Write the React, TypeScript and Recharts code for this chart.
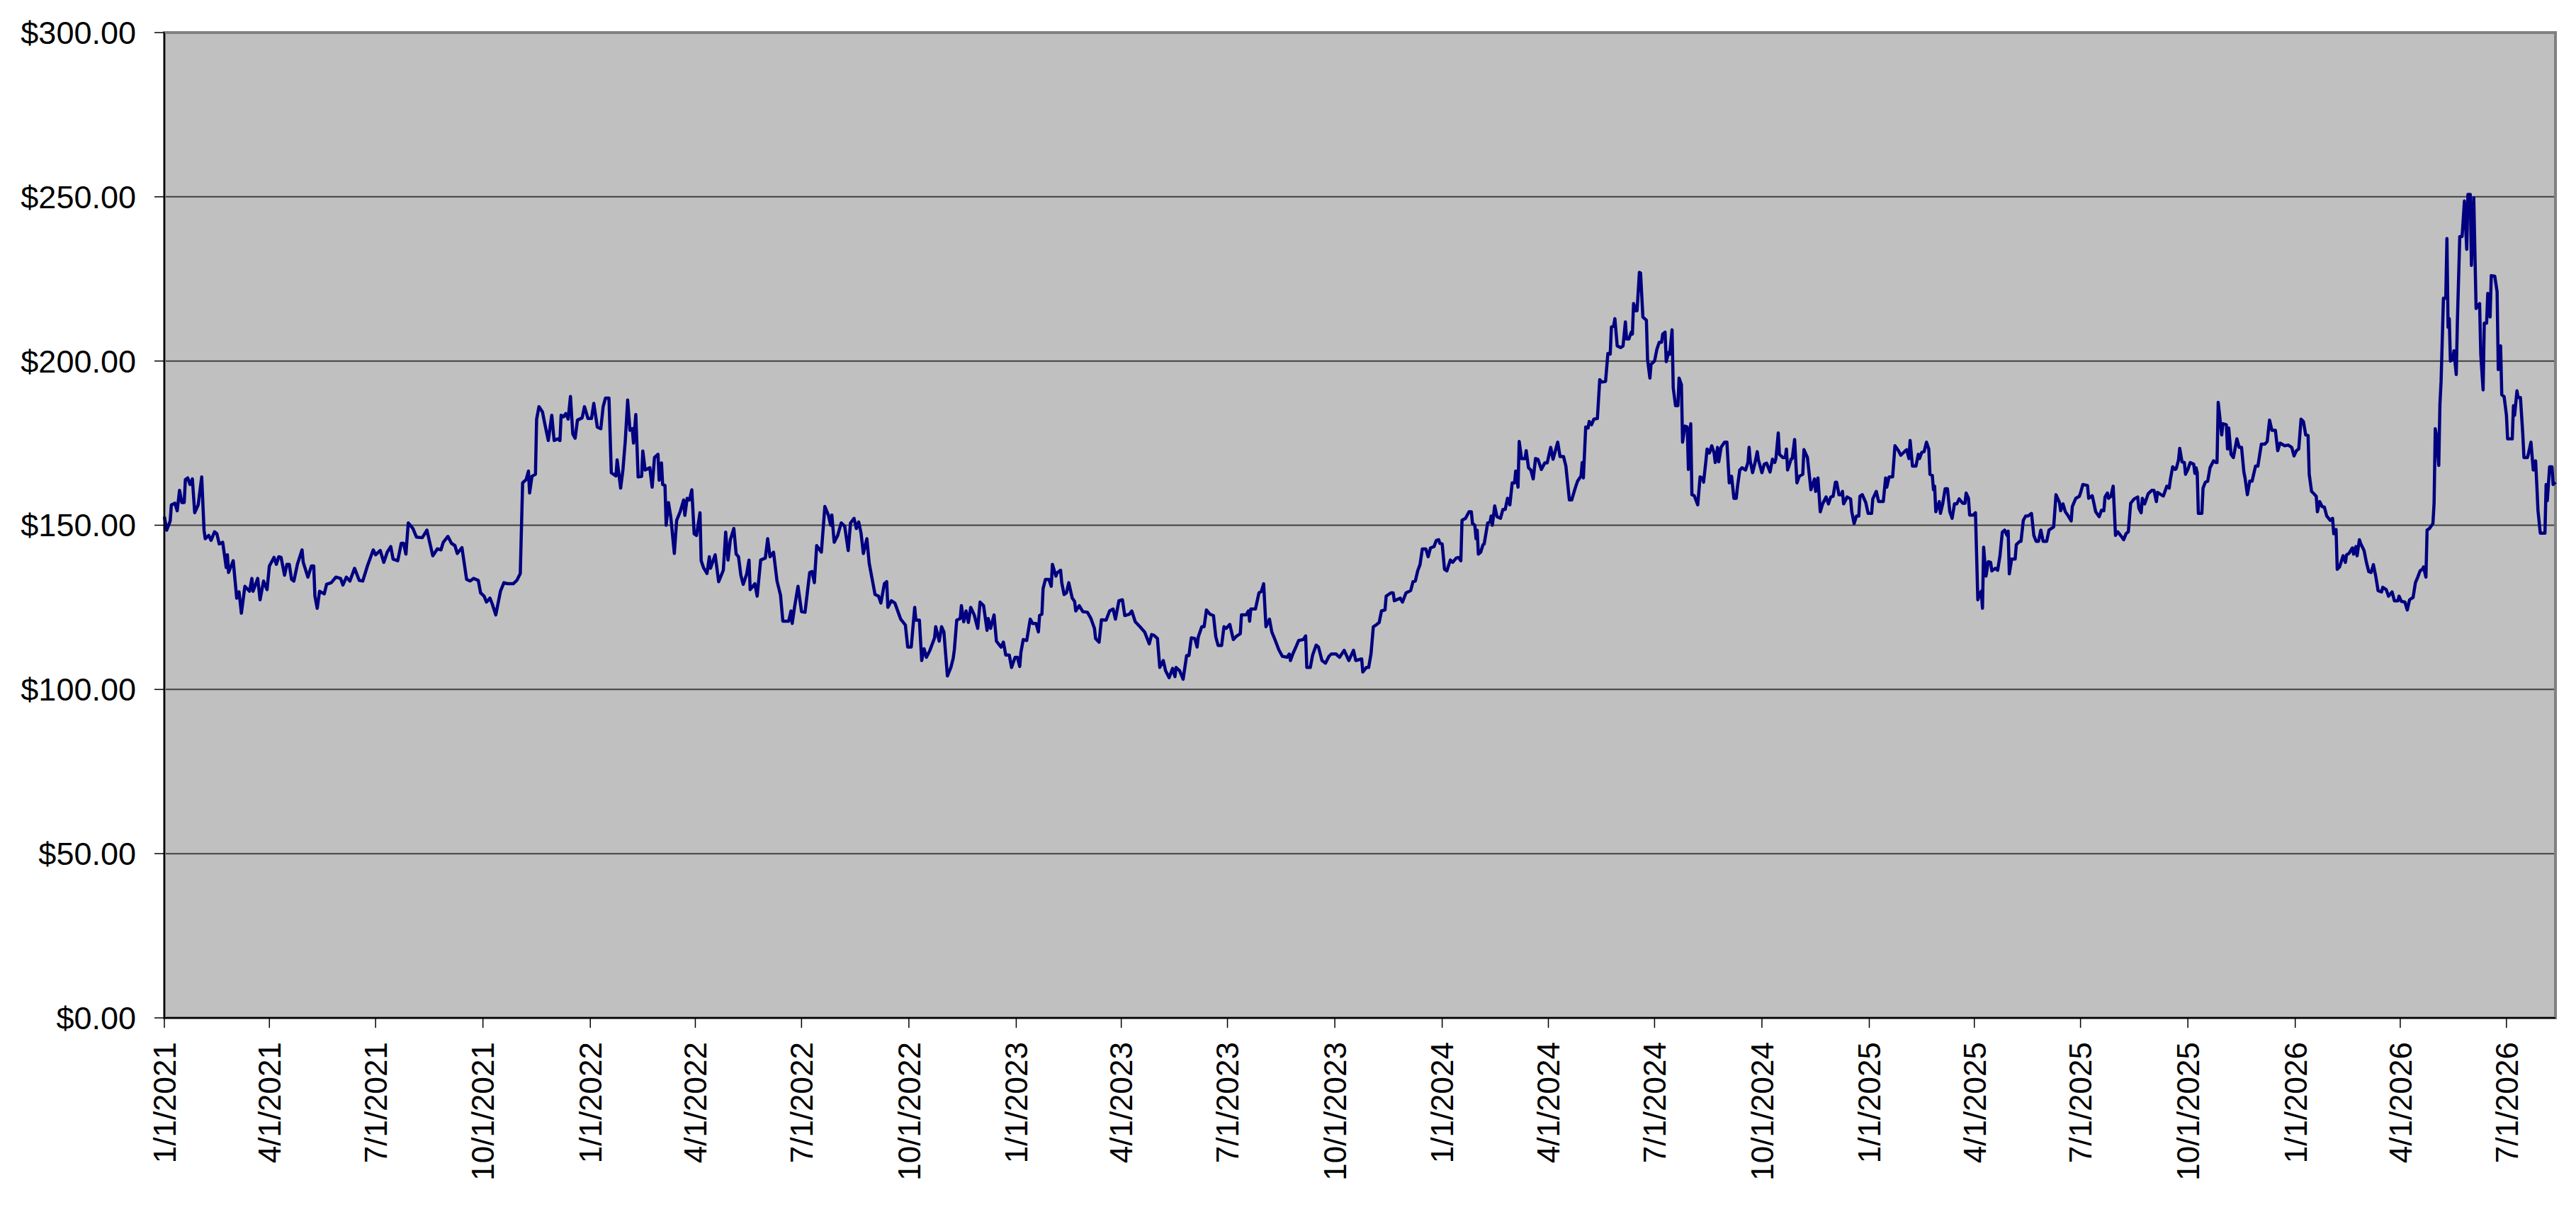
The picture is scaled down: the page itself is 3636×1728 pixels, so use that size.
import React from 'react';
import { LineChart, Line, XAxis, YAxis, CartesianGrid, ReferenceArea } from 'recharts';

// x = days since 1/1/2021
const dayOffsets = [
  0, 2, 5, 6, 9, 11, 13, 15, 17, 18, 20, 22, 24, 26, 29, 32, 34, 35, 38, 40, 43, 45, 47, 50, 53, 54, 55, 59, 62, 64,
  66, 69, 73, 75, 76, 80, 82, 85, 88, 90, 94, 96, 98, 100, 103, 105, 107, 109, 111, 114, 118, 119, 123, 126, 128, 129,
  131, 133, 137, 139, 143, 147, 151, 153, 156, 159, 163, 167, 170, 174, 179, 181, 185, 188, 191, 194, 196, 200, 203,
  205, 207, 209, 213, 216, 221, 225, 230, 234, 237, 239, 243, 246, 249, 251, 255, 259, 262, 265, 269, 271, 274, 276,
  279, 281, 284, 288, 291, 294, 299, 302, 305, 307, 310, 312, 313, 315, 318, 319, 321, 324, 326, 329, 332, 334, 337,
  339, 340, 342, 344, 346, 348, 350, 352, 354, 358, 360, 363, 366, 368, 371, 374, 376, 378, 381, 383, 387, 388, 391,
  393, 395, 397, 399, 401, 402, 404, 406, 409, 410, 412, 416, 418, 420, 423, 424, 426, 427, 429, 430, 432, 434, 437,
  439, 442, 445, 446, 448, 450, 452, 454, 456, 459, 460, 462, 465, 467, 468, 472, 475, 479, 481, 483, 485, 488, 490,
  492, 494, 496, 499, 501, 502, 506, 508, 511, 515, 517, 519, 522, 525, 528, 530, 535, 537, 538, 540, 543, 546, 549,
  553, 555, 557, 559, 563, 566, 569, 571, 572, 574, 577, 580, 583, 586, 588, 591, 593, 595, 597, 599, 602, 604, 609,
  612, 614, 617, 619, 620, 623, 626, 631, 635, 637, 640, 643, 644, 647, 649, 651, 653, 656, 660, 661, 664, 666, 668,
  671, 674, 676, 677, 679, 682, 683, 685, 687, 689, 691, 694, 697, 699, 702, 705, 706, 708, 711, 713, 717, 719, 721,
  724, 726, 729, 731, 733, 734, 736, 739, 742, 744, 747, 749, 750, 752, 753, 755, 758, 760, 761, 764, 765, 768, 769,
  771, 773, 775, 778, 780, 781, 784, 787, 791, 794, 797, 798, 801, 803, 807, 810, 813, 815, 818, 821, 823, 827, 829,
  832, 836, 840, 844, 846, 848, 851, 853, 856, 858, 861, 864, 866, 867, 870, 873, 876, 878, 880, 883, 885, 886, 889,
  891, 893, 896, 899, 901, 903, 906, 908, 910, 913, 916, 919, 922, 923, 927, 929, 930, 931, 935, 938, 940, 942, 944,
  947, 949, 952, 955, 958, 962, 964, 965, 967, 970, 972, 976, 978, 979, 982, 984, 987, 989, 992, 995, 998, 1000, 1004,
  1007, 1011, 1015, 1019, 1021, 1026, 1027, 1030, 1032, 1034, 1036, 1039, 1041, 1043, 1046, 1047, 1051, 1053, 1054,
  1059, 1061, 1064, 1068, 1070, 1072, 1074, 1076, 1078, 1081, 1083, 1085, 1088, 1090, 1092, 1093, 1095, 1097, 1099,
  1102, 1104, 1107, 1109, 1111, 1112, 1115, 1118, 1120, 1121, 1123, 1124, 1125, 1126, 1128, 1130, 1131, 1134, 1136,
  1137, 1138, 1140, 1142, 1145, 1147, 1149, 1151, 1153, 1155, 1157, 1158, 1160, 1161, 1163, 1166, 1167, 1169, 1171,
  1173, 1175, 1177, 1180, 1183, 1185, 1188, 1190, 1192, 1194, 1196, 1199, 1201, 1204, 1206, 1209, 1211, 1214, 1215,
  1216, 1218, 1220, 1221, 1223, 1225, 1228, 1230, 1232, 1235, 1237, 1239, 1240, 1242, 1243, 1245, 1248, 1250, 1252,
  1253, 1255, 1257, 1258, 1259, 1261, 1262, 1264, 1265, 1267, 1270, 1271, 1273, 1274, 1277, 1279, 1281, 1283, 1284,
  1286, 1287, 1289, 1290, 1292, 1293, 1295, 1297, 1298, 1300, 1301, 1303, 1305, 1306, 1308, 1309, 1311, 1314, 1316,
  1318, 1319, 1321, 1322, 1324, 1326, 1328, 1329, 1331, 1332, 1334, 1337, 1339, 1341, 1343, 1345, 1347, 1348, 1350,
  1352, 1355, 1357, 1358, 1359, 1361, 1363, 1365, 1366, 1369, 1371, 1373, 1376, 1378, 1380, 1381, 1383, 1384, 1387,
  1389, 1390, 1391, 1394, 1395, 1397, 1399, 1401, 1404, 1405, 1408, 1411, 1414, 1415, 1417, 1419, 1421, 1424, 1426,
  1428, 1430, 1432, 1433, 1435, 1437, 1438, 1439, 1442, 1445, 1446, 1448, 1450, 1452, 1453, 1455, 1458, 1460, 1463,
  1464, 1467, 1469, 1473, 1475, 1476, 1478, 1481, 1483, 1486, 1488, 1492, 1493, 1495, 1496, 1498, 1501, 1503, 1504,
  1506, 1508, 1510, 1512, 1513, 1515, 1516, 1517, 1518, 1521, 1522, 1524, 1526, 1528, 1530, 1532, 1534, 1536, 1538,
  1541, 1543, 1544, 1546, 1547, 1550, 1552, 1554, 1556, 1557, 1558, 1559, 1561, 1563, 1565, 1566, 1569, 1571, 1573,
  1575, 1577, 1579, 1580, 1581, 1583, 1586, 1587, 1590, 1591, 1593, 1595, 1597, 1600, 1602, 1604, 1606, 1608, 1610,
  1613, 1615, 1617, 1619, 1621, 1624, 1625, 1627, 1629, 1631, 1634, 1635, 1638, 1641, 1642, 1644, 1648, 1649, 1652,
  1653, 1655, 1658, 1660, 1662, 1663, 1665, 1666, 1668, 1670, 1672, 1674, 1677, 1679, 1681, 1683, 1685, 1688, 1691,
  1692, 1694, 1695, 1697, 1700, 1703, 1705, 1707, 1708, 1711, 1713, 1716, 1718, 1719, 1721, 1723, 1724, 1726, 1727,
  1729, 1731, 1732, 1734, 1736, 1739, 1740, 1741, 1742, 1743, 1746, 1747, 1749, 1751, 1753, 1756, 1758, 1759, 1760,
  1763, 1764, 1767, 1768, 1769, 1771, 1773, 1776, 1778, 1780, 1782, 1783, 1785, 1787, 1789, 1792, 1794, 1797, 1800,
  1802, 1804, 1806, 1809, 1811, 1813, 1817, 1820, 1823, 1825, 1827, 1829, 1831, 1833, 1835, 1837, 1838, 1840, 1842,
  1844, 1845, 1847, 1849, 1851, 1853, 1856, 1858, 1859, 1861, 1862, 1864, 1867, 1869, 1870, 1872, 1875, 1876, 1878,
  1879, 1881, 1882, 1885, 1887, 1889, 1891, 1893, 1895, 1897, 1900, 1901, 1904, 1906, 1909, 1911, 1914, 1915, 1917,
  1920, 1922, 1924, 1926, 1927, 1929, 1931, 1933, 1935, 1936, 1938, 1939, 1941, 1943, 1944, 1945, 1946, 1947, 1949,
  1950, 1951, 1953, 1955, 1956, 1957, 1958, 1959, 1961, 1962, 1964, 1965, 1967, 1969, 1971, 1973, 1974, 1976, 1977,
  1979, 1981, 1984, 1985, 1987, 1988, 1990, 1991, 1993, 1994, 1997, 1999, 2000, 2002, 2003, 2005, 2007, 2008, 2012,
  2013, 2014, 2016, 2017, 2019, 2021, 2022, 2025, 2026, 2028, 2030, 2032, 2033, 2034, 2036, 2040, 2041, 2042, 2044,
  2046, 2047, 2049,
];

const prices = [
  152.6, 148.5, 151.3, 156.2, 156.7, 154.4, 160.6, 156.9, 156.9, 163.9, 164.4, 162.4, 164.1, 153.8, 156.2, 164.7, 148.5,
  145.9, 146.9, 145.4, 148, 147.4, 144.3, 144.8, 137.1, 141, 135.6, 139.2, 127.8, 129.7, 123.2, 131.4, 129.9, 133.8,
  129.9, 133.8, 127.3, 133, 130.4, 137.6, 140.2, 138.1, 140.4, 140.2, 134.8, 138.1, 138.1, 133.5, 133, 138.1, 142.5,
  138.7, 134.2, 137.6, 137.6, 128.4, 124.7, 129.9, 129.1, 132, 132.5, 134.2, 133.8, 131.8, 134.2, 133, 136.9, 133.2,
  133, 137.6, 142.5, 141, 142.3, 138.7, 141.8, 143.5, 139.7, 139.2, 144.5, 144.5, 141.2, 150.7, 149, 146.4, 146.2,
  148.5, 140.7, 142.8, 142.5, 144.8, 146.6, 144.5, 143.8, 141.4, 143.2, 133.5, 133, 133.8, 133.2, 129.4, 128.4, 126.6,
  127.8, 126, 122.7, 129.9, 132.5, 132.2, 132.2, 133.2, 135.3, 162.9, 163.9, 166.5, 159.8, 164.9, 165.5, 182.3, 186.1,
  184.5, 180.9, 175.8, 183.5, 175.8, 176.3,
  175.8, 183.5, 183, 184, 182.3, 189.2, 177.8, 176.5, 182, 182.7, 186.1, 182.5, 182.5, 187.1, 179.9, 179.4, 186.1,
  188.7, 188.7, 166, 165, 169.9, 161.3, 167, 175.8, 188.1, 178.9, 179.4, 175, 183.7, 164.7, 164.9, 172.6, 166.8, 167.5,
  161.6, 170.6, 171.6, 163.7, 169, 162.4, 162.1, 150, 156.9, 152.4, 141.4, 151.5, 154.1, 157.7, 153, 158.2, 157.7,
  160.8, 147.4, 146.9, 153.8, 139.2, 137.1, 135.3, 140.4, 136.9, 141, 132.8, 136.3, 147.9, 139.4, 145.6, 149, 141.2,
  140.4, 134.8, 132, 135.1, 139.4, 130.4, 132.2, 128.4, 139.4, 140, 145.9, 140.4, 141.8, 133, 128.7, 120.8, 120.8,
  123.9, 120.1, 125, 131.4, 123.7, 123.5, 135.6, 135.9, 132.5, 143.8, 141.8, 155.7, 153.1, 150, 153.1, 144.8, 146.9,
  150.7, 149.7, 142.3, 150.7, 152.1, 149, 151, 147.6, 141.4, 145.9, 138.4, 128.9, 128.4, 126.3, 132.2, 132.8, 125, 127,
  126.3, 121.4, 119.6, 112.9, 112.9, 125, 121.1, 121.1, 108.8, 112.4, 109.8, 111.9, 115.7, 119.1, 114.7, 119.1, 117.5,
  104.1, 106.7, 109.5, 112.2, 121.1, 121.6,
  125.5, 120.6, 123.9, 120.4, 125, 122.7, 118.6, 126.6, 125.5, 118, 121.6, 118.6, 122.7, 114.7, 112.9, 114.4, 110.5,
  110.5, 106.7, 109.8, 109.8, 107, 111.3, 115.2, 114.9, 121.4, 120.1, 120.1, 117.5, 122.5, 122.9, 130.7, 133.5, 133.5,
  131.4, 138.1, 134.5, 135.5, 136.3, 132.5, 128.9, 129.4, 132.5, 127.8, 126.8, 123.9, 125.5, 123.7, 123.5, 121.6,
  118.6, 115.5, 114.4, 121.2, 121.1, 123.9, 124.5, 121.4, 127, 127.3, 122.5, 122.9, 123.9, 120.6, 119.1, 117.5, 113.9,
  116.7, 116.5, 115.5, 106.7, 108.8, 105.7, 103.6, 106.4, 103.9, 106.7, 105.7, 103.1, 110.3, 110.3, 115.7, 115.5,
  112.9, 116, 119.1, 119.1, 124.2, 122.9, 122.5, 116, 113.4, 113.4, 119.1, 118.6, 119.8, 115.2, 116.3, 117, 122.7,
  122.7, 123.9, 120.8, 124.5, 124.5, 129.4, 129.8, 132.2, 119.1, 121.4, 117.5, 114.9, 112.1, 110.1, 109.8, 110.8,
  108.8, 110.8, 113.2, 114.9, 115.2, 116.3, 106.7, 106.7, 110.5, 113.5, 112.9, 108.8, 108, 110.1, 110.8, 110.8, 109.8,
  111.9, 108.8, 111.9, 108.8, 109.3, 105.3, 106.7,
  106.7, 110.8, 119.1, 119.8, 120.4, 123.9, 124.2, 128.4, 129.4, 129.4, 127, 127.8, 126.6, 129.4, 130.1, 132.8, 133,
  136.1, 138, 142.8, 142.8, 140.4, 143.1, 143.5, 145.4, 145.6, 144.5, 144.3, 136.6, 136.1, 139.4, 138.7, 140, 140.2,
  139.2, 151.5, 152.1, 154.1, 154.1, 150.5, 150, 145.9, 148.5, 141.2, 141.8, 144.1, 144.3, 150.7, 151, 152.8, 150,
  155.9, 152.6, 152.1, 154.8, 154.8, 158.2, 156.2, 162.9, 162.9, 166.5, 161.6, 175.5, 170.3, 170.3, 172.7, 167.5,
  166.8, 164.1, 170.3, 170.1, 167, 169, 169, 173.7, 170.1, 172.7, 175.3, 170.9, 170.9, 168, 157.7, 157.7, 161.3, 163.4,
  165, 169.1, 164.4, 179.9, 179.6, 181.6, 180.6, 182.3, 182.5, 194.3, 193.6, 193.8, 202.3, 202.1, 210.3, 210.8, 212.9,
  204.6, 204.1, 204.6, 211.9, 206.7, 206.7, 208.8, 208.2, 217.5, 215.3, 215.3, 227, 226.8, 213.4, 212.4, 200.5, 194.8,
  199, 200, 203.6, 205.7, 205.7, 208.2, 208.8, 199.8, 202.6, 202.1, 209.5, 191.8, 186.4, 186.4, 194.8, 192.8, 175.3,
  180.2, 179.9, 167, 180.9, 159.3, 159, 156.2, 164.7, 164.4, 163.1, 169.6, 173.2, 172, 174.2, 172, 169.1, 173.7, 169.3,
  173.7, 175.3, 175.3, 162.9, 164.9, 158.2, 158.2, 161.6, 166.8, 167.5, 166.8, 169.1, 173.7, 169.6, 166, 168.9, 172.4,
  169.9, 166, 168.6, 168.9,
  166.2, 170.1, 169.1, 170.3, 178.1, 171.6, 170.6, 170.6, 173.2, 166.8, 170.1, 170.3, 176.1, 162.9, 164.9, 165.5, 173,
  170.6, 160.8, 164.1, 160.3, 164.4, 154.1, 156.5, 158.6, 156.5, 158.6, 158.8, 163.1, 163.1, 159.3, 159.3, 160.3,
  156.5, 158.6, 158, 154.1, 150.5, 152.8, 152.8, 158.8, 159.3, 156.9, 153.6, 153.6, 158, 160.3, 157.2, 157.2, 164.4,
  161.6, 164.7, 164.7, 174.2, 172.7, 171.3, 172.7, 173, 170.3, 175.8, 168, 168, 171.6, 170.3, 172.2, 172.4, 175.3,
  173.2, 165.5, 165.2, 160.8, 161.9, 154.1, 157.2, 153.6, 156.7, 161.1, 161.1, 154.1, 152.1, 156.5, 156.5, 158, 156.7,
  156.7, 159.8, 158.2, 153.1, 153.1, 153.8, 127.3, 129.4, 129.9, 124.7, 143.3, 134.5, 138.9, 138.7, 136.1, 136.9,
  136.3, 140.7, 147.9, 148.5, 146.9, 148.2, 135.2, 139.7, 139.7, 144.1, 145.1, 145.1, 151.5, 152.8, 152.8, 153.6,
  146.9, 145.1, 145.1, 148.5, 145.1, 145.1, 148.5, 149, 149.5, 159.3, 156.9, 154.4, 156.5, 154.1, 153.1, 151.3, 155.7,
  158.2, 158.8, 159.8, 162.4, 162.1, 158.2, 159, 157.5, 154.1, 152.6, 154.6, 154.4, 158.6, 159.8, 158.2, 158.8, 161.9,
  146.9, 148, 146.6, 145.6, 147.4, 148, 156.7, 158, 158.6, 155.2, 153.8, 158.2, 156.5, 159.6, 160.6, 160.6, 157.2, 160,
  159.3, 158.9,
  161.9, 161.3, 163.9, 167.8, 167, 167.2, 169.9, 173.4, 169.3, 169.1, 165.5, 167, 169.1, 168.6, 165.8, 167.5, 166,
  153.6, 153.6, 161.3, 163.1, 163.4, 167.5, 169.6, 169.1, 169.1, 187.4, 177.5, 180.9, 180.6, 173.2, 179.6, 171.6,
  170.6, 176.3, 173.7, 173.7, 166.2, 164.4, 159.3, 163.4, 163.4, 168, 168, 174.7, 174.7, 175.5, 182, 178.9, 178.9,
  172.7, 175, 174.2, 174.4, 173.7, 171.1, 172.7, 173.2, 182.3, 181.6, 177.5, 177.3, 165.5, 160.3, 159.6, 158.8, 154.1,
  157.2, 155.7, 155.5, 152.8, 151.5, 152.1, 147.4, 148.7, 136.6, 137.3, 140.7, 138.7, 141, 141.4, 143.1, 141.2, 143.5,
  140.7, 145.6, 144.5, 142.3, 138.7, 135.9, 135.6, 138, 134.5, 130.1, 129.7, 131.1, 130.4, 128.4, 129.7, 127, 127,
  128.4, 126.8, 126.6, 124.2, 127.3, 127.8, 128, 132.5, 134.2, 136.1, 136.6, 137.3, 134.2, 148.5, 149, 150, 150.5,
  156.7, 179.4, 177.3, 168.2, 186.8, 193.8, 219.1, 219.1, 237.3, 210.3, 212.9, 200, 200.5, 203.1, 195.9, 212.4, 237.9,
  237.9, 248.7, 234, 250.7, 250.7, 229.1, 249.7, 216, 217.5, 202.1, 191.2, 211.5, 211.5, 220.6, 213.4, 226, 225.8,
  221.1, 197.4, 204.6, 189.7, 189.2, 183.5, 176.3, 176.3, 186.4, 183.5, 190.9, 188.9, 188.9, 177.8, 170.6, 170.6, 172,
  175.3, 166.8, 169.6, 162.4, 154.6, 147.6, 147.6, 162.4, 157.5, 167.8, 167.8, 162.4, 163.1,
];

const tickLabels = [
  '1/1/2021', '4/1/2021', '7/1/2021', '10/1/2021',
  '1/1/2022', '4/1/2022', '7/1/2022', '10/1/2022',
  '1/1/2023', '4/1/2023', '7/1/2023', '10/1/2023',
  '1/1/2024', '4/1/2024', '7/1/2024', '10/1/2024',
  '1/1/2025', '4/1/2025', '7/1/2025', '10/1/2025',
  '1/1/2026', '4/1/2026', '7/1/2026',
];

const yTicks = [0, 50, 100, 150, 200, 250, 300];

const LAST_DAY = 2049;
const FONT = '"Liberation Sans", Arial, sans-serif';

const toOffset = (label: string) => {
  const [m, d, y] = label.split('/').map(Number);
  return Math.round((Date.UTC(y, m - 1, d) - Date.UTC(2021, 0, 1)) / 86400000);
};
const tickOffsets = tickLabels.map(toOffset);

const data = dayOffsets.map((day, i) => ({ day, price: prices[i] }));

const DateTick = (props: any) => {
  const { x, y, payload } = props;
  const idx = tickOffsets.indexOf(payload.value);
  return (
    <text
      x={x}
      y={y}
      transform={`rotate(-90, ${x}, ${y})`}
      textAnchor="end"
      dy="0.36em"
      fontSize={44}
      fontFamily={FONT}
      fill="#000"
    >
      {idx >= 0 ? tickLabels[idx] : ''}
    </text>
  );
};

export default function App() {
  return (
    <div style={{ position: 'absolute', left: 0, top: 0, width: 3636, height: 1728, background: '#fff' }}>
      <LineChart width={3636} height={1728} data={data} margin={{ top: 46, right: 29, bottom: 0, left: 0 }}>
        <CartesianGrid
          horizontal
          vertical={false}
          fill="#C0C0C0"
          fillOpacity={1}
          stroke="#404040"
          strokeWidth={2}
        />
        <ReferenceArea
          x1={0}
          x2={LAST_DAY}
          y1={0}
          y2={300}
          fill="none"
          stroke="#808080"
          strokeWidth={4}
          ifOverflow="visible"
        />
        <XAxis
          dataKey="day"
          type="number"
          domain={[0, LAST_DAY]}
          ticks={tickOffsets}
          interval={0}
          height={291}
          tickSize={14}
          tickMargin={20}
          axisLine={{ stroke: '#000', strokeWidth: 2 }}
          tickLine={{ stroke: '#000', strokeWidth: 1.5 }}
          tick={<DateTick />}
        />
        <YAxis
          type="number"
          domain={[0, 300]}
          ticks={yTicks}
          interval={0}
          width={232}
          tickSize={14}
          tickMargin={26}
          axisLine={{ stroke: '#000', strokeWidth: 2 }}
          tickLine={{ stroke: '#000', strokeWidth: 1.5 }}
          tick={{ fill: '#000', fontSize: 45, fontFamily: FONT }}
          tickFormatter={(v: number) => `$${v.toFixed(2)}`}
        />
        <Line
          type="linear"
          dataKey="price"
          stroke="#000080"
          strokeWidth={4.5}
          strokeLinejoin="round"
          dot={false}
          activeDot={false}
          isAnimationActive={false}
        />
      </LineChart>
    </div>
  );
}
